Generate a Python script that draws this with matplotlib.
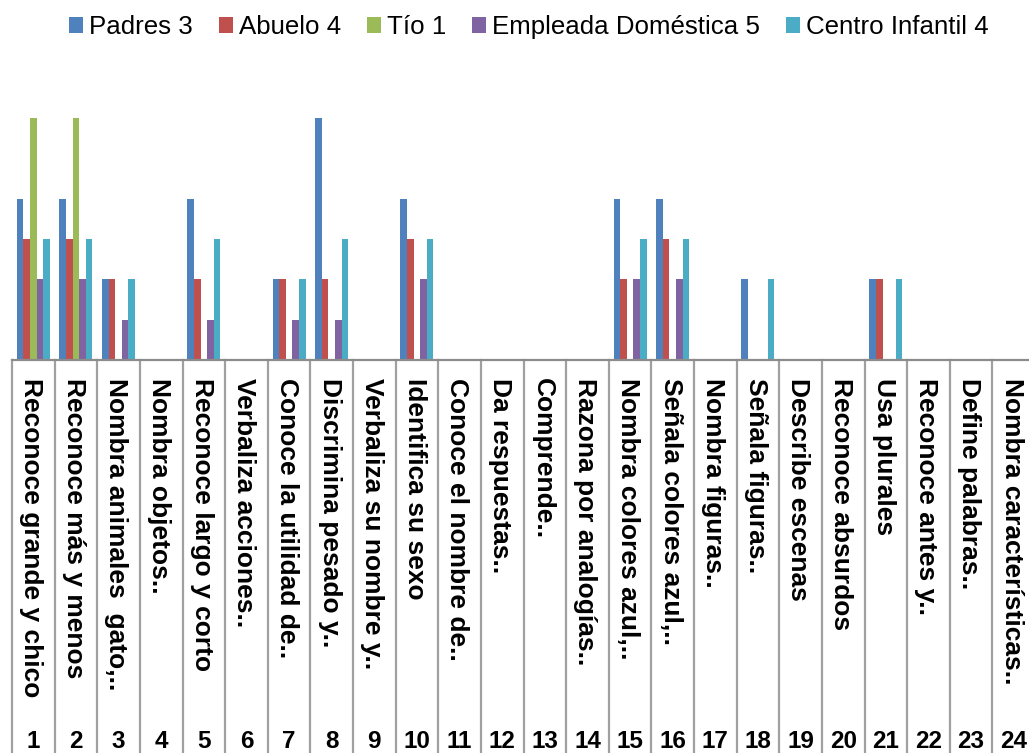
import numpy as np
import matplotlib
matplotlib.use('Agg')
from matplotlib import pyplot as plt
from matplotlib.transforms import blended_transform_factory

numbers = [str(i) for i in range(1, 25)]
items = ['Reconoce grande y chico', 'Reconoce más y menos', 'Nombra animales  gato,..',
         'Nombra objetos..', 'Reconoce largo y corto', 'Verbaliza acciones..',
         'Conoce la utilidad de..', 'Discrimina pesado y..', 'Verbaliza su nombre y..',
         'Identifica su sexo', 'Conoce el nombre de..', 'Da respuestas..',
         'Comprende..', 'Razona por analogías..', 'Nombra colores azul,..',
         'Señala colores azul,..', 'Nombra figuras..', 'Señala figuras..',
         'Describe escenas', 'Reconoce absurdos', 'Usa plurales',
         'Reconoce antes y..', 'Define palabras..', 'Nombra características..']

padres   = [4, 4, 2, 0, 4, 0, 2, 6, 0, 4, 0, 0, 0, 0, 4, 4, 0, 2, 0, 0, 2, 0, 0, 0]
abuelo   = [3, 3, 2, 0, 2, 0, 2, 2, 0, 3, 0, 0, 0, 0, 2, 3, 0, 0, 0, 0, 2, 0, 0, 0]
tio      = [6, 6, 0, 0, 0, 0, 0, 0, 0, 0, 0, 0, 0, 0, 0, 0, 0, 0, 0, 0, 0, 0, 0, 0]
empleada = [2, 2, 1, 0, 1, 0, 1, 1, 0, 2, 0, 0, 0, 0, 2, 2, 0, 0, 0, 0, 0, 0, 0, 0]
centro   = [3, 3, 2, 0, 3, 0, 2, 3, 0, 3, 0, 0, 0, 0, 3, 3, 0, 2, 0, 0, 2, 0, 0, 0]

series = [('Padres 3', padres, '#4F81BD'),
          ('Abuelo 4', abuelo, '#C0504D'),
          ('Tío 1', tio, '#9BBB59'),
          ('Empleada Doméstica 5', empleada, '#8064A2'),
          ('Centro Infantil 4', centro, '#4BACC6')]

plt.rcParams['font.family'] = ['Liberation Sans', 'DejaVu Sans']

W, H = 1029, 753
fig = plt.figure(figsize=(W / 100, H / 100), dpi=100)
base_px = 360
unit_px = 40.3
left_px, right_px = 12, 1035
ax = fig.add_axes([left_px / W, 1 - base_px / H, (right_px - left_px) / W, 7 * unit_px / H])

x = np.arange(len(numbers))
bw = 0.155
for i, (name, vals, color) in enumerate(series):
    ax.bar(x + (i - 2) * bw, vals, bw, color=color, label=name, zorder=2)

ax.set_xlim(-0.5, len(numbers) - 0.5)
ax.set_ylim(0, 7)
for s in ['top', 'right', 'left']:
    ax.spines[s].set_visible(False)
ax.spines['bottom'].set_color('#8c8c8c')
ax.spines['bottom'].set_linewidth(1.6)
ax.set_xticks([])
ax.set_yticks([])

# multi-level category axis below the plot
trans = blended_transform_factory(ax.transData, fig.transFigure)
for k in range(len(numbers) + 1):
    ax.plot([k - 0.5, k - 0.5], [1 - base_px / H, 0], transform=trans,
            color='#a0a0a0', lw=1.6, clip_on=False)
for k in range(len(numbers)):
    ax.text(k - 0.05, 1 - 378 / H, items[k], transform=trans, rotation=-90,
            ha='center', va='top', fontsize=19, fontweight='bold')
    ax.text(k, 1 - 742 / H, numbers[k], transform=trans,
            ha='center', va='center', fontsize=17.5, fontweight='bold')

fig.legend(loc='center', bbox_to_anchor=(529 / W, 1 - 27 / H), ncol=5, frameon=False,
           fontsize=18.6, handlelength=0.55, handleheight=0.55, handletextpad=0.23,
           columnspacing=1.0, borderaxespad=0)

fig.savefig('out.png', dpi=100)
